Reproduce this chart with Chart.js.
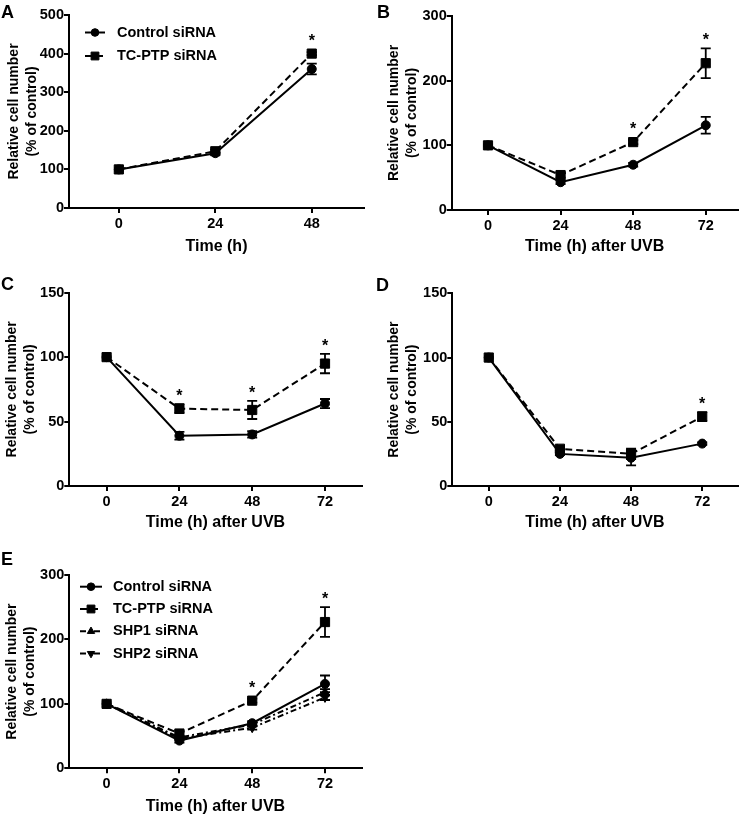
<!DOCTYPE html>
<html>
<head>
<meta charset="utf-8">
<script src="https://cdn.jsdelivr.net/npm/chart.js@4.4.0/dist/chart.umd.min.js"></script>
<style>
    body { margin: 0; background: #fff; }
    #fig { position: relative; width: 745px; height: 815px; }
    canvas { position: absolute; }
    .tag { position: absolute; font: bold 18px "Liberation Sans", Arial, sans-serif; line-height: 1; color: #000; }
</style>
</head>
<body>
<div id="fig">
    <canvas id="chartA" width="372" height="256" style="left:0;top:0"></canvas>
    <canvas id="chartB" width="370" height="256" style="left:375px;top:0"></canvas>
    <canvas id="chartC" width="372" height="262" style="left:0;top:270px"></canvas>
    <canvas id="chartD" width="370" height="262" style="left:375px;top:270px"></canvas>
    <canvas id="chartE" width="372" height="276" style="left:0;top:540px"></canvas>
    <div class="tag" style="left:1px;top:3px">A</div>
    <div class="tag" style="left:377px;top:3px">B</div>
    <div class="tag" style="left:1px;top:275px">C</div>
    <div class="tag" style="left:376px;top:276px">D</div>
    <div class="tag" style="left:1px;top:550px">E</div>
</div>
<script>
// time points
const hoursA = [0, 24, 48];
const hoursUVB = [0, 24, 48, 72];

// A - proliferation without UVB
const ctrlA = [100, 142, 360];
const ctrlAErr = [0, 3, 14];
const tcA = [100, 147, 400];
const tcAErr = [0, 4, 4];
const starsA = [48];

// B
const ctrlB = [100, 43, 70, 131];
const ctrlBErr = [0, 3, 3, 13];
const tcB = [100, 54, 105, 227];
const tcBErr = [0, 4, 3, 23];
const starsB = [48, 72];

// C
const ctrlC = [100, 39, 40, 64];
const ctrlCErr = [0, 3, 2.5, 3.5];
const tcC = [100, 60, 59, 95];
const tcCErr = [0, 3.5, 7, 7.5];
const starsC = [24, 48, 72];

// D
const ctrlD = [100, 25, 22, 33];
const ctrlDErr = [0, 1, 6, 1];
const tcD = [100, 29, 25, 54];
const tcDErr = [0, 1.5, 4, 3.5];
const starsD = [72];

// E
const ctrlE = [100, 43, 70, 131];
const ctrlEErr = [0, 3, 3, 13];
const tcE = [100, 54, 105, 227];
const tcEErr = [0, 4, 3, 23];
const shp1E = [100, 48, 68, 118];
const shp1EErr = [0, 2, 3, 5];
const shp2E = [100, 46, 63, 110];
const shp2EErr = [0, 2, 3, 4];
const starsE = [48, 72];

// axis ticks
const yTicks500 = [0, 100, 200, 300, 400, 500];
const yTicks300 = [0, 100, 200, 300];
const yTicks150 = [0, 50, 100, 150];

const FONT = '"Liberation Sans", Arial, sans-serif';

const styles = {
    "Control siRNA": { borderDash: [], pointStyle: "circle", pointRadius: 4.5, pointRotation: 0 },
    "TC-PTP siRNA": { borderDash: [7, 4], pointStyle: "rect", pointRadius: 6.5, pointRotation: 0 },
    "SHP1 siRNA": { borderDash: [6, 3, 2, 3], pointStyle: "triangle", pointRadius: 5, pointRotation: 0 },
    "SHP2 siRNA": { borderDash: [6, 3, 2, 3], pointStyle: "triangle", pointRadius: 5, pointRotation: 180 }
};

function series(label, hours, values, errors) {
    return Object.assign({
        label: label,
        data: hours.map((h, i) => ({ x: h, y: values[i] })),
        errors: errors,
        borderColor: "#000",
        backgroundColor: "#000",
        pointBackgroundColor: "#000",
        pointBorderColor: "#000",
        pointBorderWidth: 1,
        borderWidth: 2,
        tension: 0
    }, styles[label]);
}

const errorBars = {
    id: "errorBars",
    beforeDatasetsDraw(chart) {
        const ctx = chart.ctx, xs = chart.scales.x, ys = chart.scales.y;
        ctx.save();
        ctx.strokeStyle = "#000";
        ctx.lineWidth = 1.8;
        ctx.setLineDash([]);
        chart.data.datasets.forEach(ds => {
            ds.data.forEach((p, i) => {
                const e = ds.errors ? ds.errors[i] : 0;
                if (!e) return;
                const px = xs.getPixelForValue(p.x);
                const top = ys.getPixelForValue(p.y + e);
                const bot = ys.getPixelForValue(p.y - e);
                ctx.beginPath();
                ctx.moveTo(px, top); ctx.lineTo(px, bot);
                ctx.moveTo(px - 5, top); ctx.lineTo(px + 5, top);
                ctx.moveTo(px - 5, bot); ctx.lineTo(px + 5, bot);
                ctx.stroke();
            });
        });
        ctx.restore();
    }
};

const stars = {
    id: "stars",
    afterDatasetsDraw(chart, args, opts) {
        const marks = opts.at || [];
        const ctx = chart.ctx, xs = chart.scales.x, ys = chart.scales.y;
        ctx.save();
        ctx.fillStyle = "#000";
        ctx.font = "bold 16px " + FONT;
        ctx.textAlign = "center";
        ctx.textBaseline = "alphabetic";
        marks.forEach(h => {
            let top = Infinity;
            chart.data.datasets.forEach(ds => {
                ds.data.forEach((p, i) => {
                    if (p.x !== h) return;
                    const e = ds.errors ? ds.errors[i] : 0;
                    const py = Math.min(ys.getPixelForValue(p.y + e), ys.getPixelForValue(p.y) - ds.pointRadius * 0.75);
                    top = Math.min(top, py);
                });
            });
            ctx.fillText("*", xs.getPixelForValue(h), top - 3);
        });
        ctx.restore();
    }
};

const lineLegend = {
    id: "lineLegend",
    afterDraw(chart, args, opts) {
        if (!opts.show) return;
        const ctx = chart.ctx;
        chart.data.datasets.forEach((ds, i) => {
            const y = opts.y + i * opts.rowH;
            ctx.save();
            ctx.strokeStyle = "#000";
            ctx.fillStyle = "#000";
            ctx.lineWidth = 2;
            ctx.setLineDash(ds.borderDash);
            ctx.beginPath();
            ctx.moveTo(opts.x0, y);
            ctx.lineTo(opts.x1, y);
            ctx.stroke();
            ctx.setLineDash([]);
            ctx.lineWidth = 1;
            Chart.helpers.drawPoint(ctx, {
                pointStyle: ds.pointStyle,
                rotation: ds.pointRotation,
                radius: ds.pointRadius * 0.85,
                borderWidth: 1
            }, (opts.x0 + opts.x1) / 2, y);
            ctx.font = "bold 14.5px " + FONT;
            ctx.textBaseline = "middle";
            ctx.textAlign = "left";
            ctx.fillText(ds.label, opts.tx, y);
            ctx.restore();
        });
    }
};

function makePanel(id, p) {
    return new Chart(document.getElementById(id), {
        type: "line",
        data: { datasets: p.datasets },
        plugins: [errorBars, stars, lineLegend],
        options: {
            responsive: false,
            animation: false,
            devicePixelRatio: 1,
            layout: { padding: p.padding },
            plugins: {
                legend: { display: false },
                tooltip: { enabled: false },
                stars: { at: p.stars },
                lineLegend: p.legend || { show: false }
            },
            scales: {
                x: {
                    type: "linear",
                    min: p.xMin,
                    max: p.xMax,
                    afterBuildTicks: axis => { axis.ticks = p.hours.map(v => ({ value: v })); },
                    afterFit: scale => { scale.height = p.xh; },
                    grid: { drawOnChartArea: false, drawTicks: true, tickLength: 5, color: "#000", lineWidth: 2 },
                    border: { color: "#000", width: 2 },
                    ticks: { color: "#000", font: { family: FONT, size: 14.5, weight: "bold" }, padding: 2, maxRotation: 0 },
                    title: { display: true, text: p.xTitle, color: "#000", font: { family: FONT, size: 16, weight: "bold" }, padding: { top: 0, bottom: 0 } }
                },
                y: {
                    min: 0,
                    max: p.yTicks[p.yTicks.length - 1],
                    afterBuildTicks: axis => { axis.ticks = p.yTicks.map(v => ({ value: v })); },
                    afterFit: scale => { scale.width = p.yw; },
                    grid: { drawOnChartArea: false, drawTicks: true, tickLength: 5, color: "#000", lineWidth: 2 },
                    border: { color: "#000", width: 2 },
                    ticks: { color: "#000", font: { family: FONT, size: 14.5, weight: "bold" }, padding: 0 },
                    title: {
                        display: true,
                        text: ["Relative cell number", "(% of control)"],
                        color: "#000",
                        font: { family: FONT, size: 14, weight: "bold", lineHeight: 1.3 },
                        padding: { top: p.yTitlePad, bottom: 0 }
                    }
                }
            }
        }
    });
}

document.addEventListener("DOMContentLoaded", () => {
    makePanel("chartA", {
        datasets: [
            series("Control siRNA", hoursA, ctrlA, ctrlAErr),
            series("TC-PTP siRNA", hoursA, tcA, tcAErr)
        ],
        hours: hoursA, xMin: -12.4, xMax: 61, yTicks: yTicks500, stars: starsA,
        xTitle: "Time (h)",
        padding: { left: 0, top: 15, right: 8, bottom: 0 }, yw: 69, xh: 48, yTitlePad: 5,
        legend: { show: true, x0: 85, x1: 105, tx: 117, y: 32.5, rowH: 23.5 }
    });

    makePanel("chartB", {
        datasets: [
            series("Control siRNA", hoursUVB, ctrlB, ctrlBErr),
            series("TC-PTP siRNA", hoursUVB, tcB, tcBErr)
        ],
        hours: hoursUVB, xMin: -12, xMax: 82.5, yTicks: yTicks300, stars: starsB,
        xTitle: "Time (h) after UVB",
        padding: { left: 0, top: 16, right: 6.7, bottom: 0 }, yw: 76.7, xh: 46, yTitlePad: 10
    });

    makePanel("chartC", {
        datasets: [
            series("Control siRNA", hoursUVB, ctrlC, ctrlCErr),
            series("TC-PTP siRNA", hoursUVB, tcC, tcCErr)
        ],
        hours: hoursUVB, xMin: -12.3, xMax: 84.1, yTicks: yTicks150, stars: starsC,
        xTitle: "Time (h) after UVB",
        padding: { left: 0, top: 22.7, right: 10.3, bottom: 0 }, yw: 69.3, xh: 46, yTitlePad: 3
    });

    makePanel("chartD", {
        datasets: [
            series("Control siRNA", hoursUVB, ctrlD, ctrlDErr),
            series("TC-PTP siRNA", hoursUVB, tcD, tcDErr)
        ],
        hours: hoursUVB, xMin: -12.3, xMax: 83.9, yTicks: yTicks150, stars: starsD,
        xTitle: "Time (h) after UVB",
        padding: { left: 0, top: 23.3, right: 3.3, bottom: 0 }, yw: 77.3, xh: 46, yTitlePad: 10
    });

    makePanel("chartE", {
        datasets: [
            series("Control siRNA", hoursUVB, ctrlE, ctrlEErr),
            series("TC-PTP siRNA", hoursUVB, tcE, tcEErr),
            series("SHP1 siRNA", hoursUVB, shp1E, shp1EErr),
            series("SHP2 siRNA", hoursUVB, shp2E, shp2EErr)
        ],
        hours: hoursUVB, xMin: -12.3, xMax: 84.1, yTicks: yTicks300, stars: starsE,
        xTitle: "Time (h) after UVB",
        padding: { left: 0, top: 35, right: 10.3, bottom: 0 }, yw: 69.3, xh: 47.7, yTitlePad: 3,
        legend: { show: true, x0: 80, x1: 102, tx: 113, y: 46.7, rowH: 22.3 }
    });
});
</script>
</body>
</html>
